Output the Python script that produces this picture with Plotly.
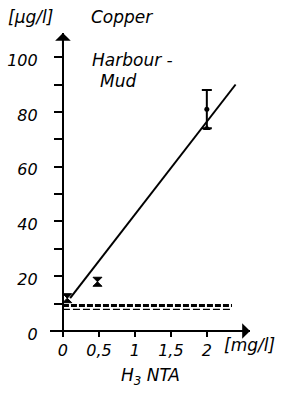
import plotly.graph_objects as go

# ---- data ----
fit_x = [0.1, 2.4]
fit_y = [12, 90]
pts_x = [0.06, 0.48]
pts_y = [12, 18]
err_x = [2.0]
err_y = [81]
err_plus = [7]
err_minus = [7]
low_x = [2.0]
low_y = [74]
blank_x = [0, 2.35]
blank_upper = [9.3, 9.3]
blank_lower = [7.9, 7.9]
xtick_vals = [0, 0.5, 1, 1.5, 2]
xtick_text = ["0", "0,5", "1", "1,5", "2"]
ytick_vals = [0, 10, 20, 30, 40, 50, 60, 70, 80, 90, 100]
ytick_text = ["0", "", "20", "", "40", "", "60", "", "80", "", "100"]

FONT = "DejaVu Sans"
fig = go.Figure()

fig.add_trace(go.Scatter(x=fit_x, y=fit_y, mode="lines",
                         line=dict(color="black", width=2), hoverinfo="skip"))
fig.add_trace(go.Scatter(x=blank_x, y=blank_upper, mode="lines",
                         line=dict(color="black", width=3, dash="6px,2px"), hoverinfo="skip"))
fig.add_trace(go.Scatter(x=blank_x, y=blank_lower, mode="lines",
                         line=dict(color="black", width=1.3, dash="7px,3px"), hoverinfo="skip"))
fig.add_trace(go.Scatter(x=pts_x, y=pts_y, mode="markers",
                         marker=dict(symbol="hourglass", size=9, color="black",
                                     line=dict(color="black", width=1)), hoverinfo="skip"))
fig.add_trace(go.Scatter(x=err_x, y=err_y, mode="markers",
                         marker=dict(symbol="circle", size=5, color="black"),
                         error_y=dict(type="data", array=err_plus, arrayminus=err_minus,
                                      color="black", thickness=2, width=5),
                         hoverinfo="skip"))
fig.add_trace(go.Scatter(x=low_x, y=low_y, mode="markers",
                         marker=dict(symbol="triangle-up", size=7, color="black"), hoverinfo="skip"))

font = dict(family=FONT, size=16, color="black", style="italic")

fig.update_layout(
    width=291, height=398,
    margin=dict(l=50, r=41, t=33, b=62, autoexpand=False),
    paper_bgcolor="white", plot_bgcolor="white",
    showlegend=False,
    xaxis=dict(range=[-0.18, 2.6], anchor="free", position=0.016, automargin=False,
               showline=True, linecolor="black", linewidth=1.8,
               showgrid=False, zeroline=False,
               tickmode="array", tickvals=xtick_vals, ticktext=xtick_text,
               ticks="outside", ticklen=5, tickwidth=1.5, tickcolor="black",
               tickfont=font, ticklabelstandoff=0),
    yaxis=dict(range=[-1.8, 108.8], anchor="free", position=0.065, automargin=False,
               showline=True, linecolor="black", linewidth=2.2,
               showgrid=False, zeroline=False,
               tickmode="array", tickvals=ytick_vals, ticktext=ytick_text,
               ticks="outside", ticklen=8, tickwidth=1.5, tickcolor="black",
               tickfont=font, ticklabelstandoff=13, ticklabelshift=3),
)

# axis arrows
fig.add_annotation(x=0, y=108.8, xref="x", yref="y", ax=0, ay=16, axref="pixel", ayref="pixel",
                   showarrow=True, arrowhead=1, arrowsize=1.3, arrowwidth=2, arrowcolor="black", text="")
fig.add_annotation(x=2.6, y=0, xref="x", yref="y", ax=-16, ay=0, axref="pixel", ayref="pixel",
                   showarrow=True, arrowhead=1, arrowsize=1.3, arrowwidth=2, arrowcolor="black", text="")

def label(txt, x, y, xanchor="left", size=17):
    fig.add_annotation(x=x, y=y, xref="paper", yref="paper", text=txt, showarrow=False,
                       xanchor=xanchor, yanchor="middle",
                       font=dict(family=FONT, size=size, color="black", style="italic"))

W, H, L, B = 200, 303, 50, 62
def px(xp): return (xp - L) / W
def py(yp): return (398 - B - yp) / H

label("[μg/l]", px(6), py(17), size=17)
label("Copper", px(89), py(17), size=17)
label("Harbour -", px(90), py(60), size=17)
label("Mud", px(98), py(81), size=17)
label("[mg/l]", px(222), py(345), size=17)
label("H<sub>3</sub> NTA", px(150), py(376), xanchor="center", size=17)

fig.write_html("out.html", config={"displayModeBar": False},
               post_script="document.body.style.margin='0';")
